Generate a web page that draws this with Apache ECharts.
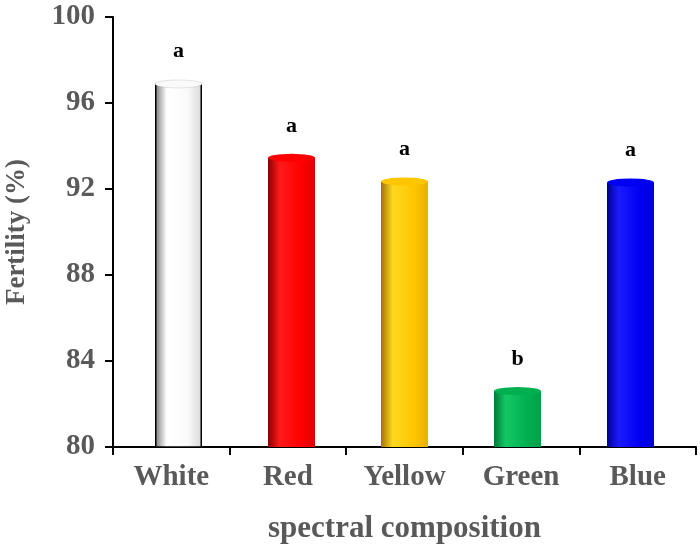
<!DOCTYPE html>
<html lang="en">
<head>
    <meta charset="UTF-8">
    <title>Fertility by spectral composition</title>
    <script src="https://cdn.jsdelivr.net/npm/echarts@6/dist/echarts.min.js"></script>
    <style>
        html, body { margin: 0; padding: 0; background: #fff; }
        #chart { width: 700px; height: 555px; }
    </style>
</head>
<body>
    <div id="chart"></div>
    <script>
    // data
    var categories = ['White', 'Red', 'Yellow', 'Green', 'Blue'];
    var fertility = [96.9, 93.45, 92.35, 82.6, 92.3];
    var letters = ['a', 'a', 'a', 'b', 'a'];
    var yTicks = [80, 84, 88, 92, 96, 100];

    // cylinder shading per bar: [dark edge, bright, base, right edge]
    var shades = [
        ['#7a7a7a', '#ffffff', '#fafafa', '#d8d8d8'],
        ['#8a0000', '#ff1a1a', '#ff0000', '#e00000'],
        ['#a07400', '#ffd820', '#ffc600', '#e8b000'],
        ['#00783a', '#14c864', '#00b050', '#00a048'],
        ['#000090', '#1a1aff', '#0000f2', '#0000d8']
    ];

    var font = '"Liberation Serif", "Times New Roman", serif';
    var grey = '#595959';

    function sideGradient(s) {
        return new echarts.graphic.LinearGradient(0, 0, 1, 0, [
            { offset: 0, color: s[0] },
            { offset: 0.25, color: s[1] },
            { offset: 0.7, color: s[2] },
            { offset: 1, color: s[3] }
        ]);
    }

    function styled(i, fill) {
        return {
            color: fill,
            borderColor: i === 0 ? '#000' : 'transparent',
            borderWidth: i === 0 ? 1.5 : 0
        };
    }

    var barData = fertility.map(function (v, i) {
        return { value: v, itemStyle: styled(i, sideGradient(shades[i])) };
    });
    var capData = fertility.map(function (v, i) {
        return { value: v, itemStyle: styled(i, shades[i][2]) };
    });
    var baseData = fertility.map(function (v, i) {
        return { value: v, itemStyle: styled(i, sideGradient(shades[i])) };
    });

    var yMin = yTicks[0], yMax = yTicks[yTicks.length - 1];

    var chart = echarts.init(document.getElementById('chart'));
    chart.setOption({
        animation: false,
        grid: [
            // visible axes
            { left: 113, right: 4, top: 17, bottom: 108, containLabel: false, outerBoundsMode: 'none' },
            // the cylinders in the original sit a little off the category centres
            { left: 122, right: 13, top: 17, bottom: 108, containLabel: false, outerBoundsMode: 'none' }
        ],
        xAxis: [{
            type: 'category',
            gridIndex: 0,
            data: categories,
            name: 'spectral composition',
            nameLocation: 'middle',
            nameGap: 66,
            nameTextStyle: { fontFamily: font, fontWeight: 'bold', fontSize: 31, color: grey },
            axisLine: { lineStyle: { color: '#000', width: 2 } },
            axisTick: { show: true, length: 8, lineStyle: { color: '#000', width: 2 } },
            axisLabel: { fontFamily: font, fontWeight: 'bold', fontSize: 29, color: grey, margin: 16 }
        }, {
            type: 'category',
            gridIndex: 1,
            data: categories,
            show: false
        }],
        yAxis: [{
            type: 'value',
            gridIndex: 0,
            min: yMin,
            max: yMax,
            interval: yTicks[1] - yTicks[0],
            name: 'Fertility (%)',
            nameLocation: 'middle',
            nameGap: 82,
            nameTextStyle: { fontFamily: font, fontWeight: 'bold', fontSize: 27, color: grey },
            axisLine: { show: true, lineStyle: { color: '#000', width: 2 } },
            axisTick: { show: true, length: 8, lineStyle: { color: '#000', width: 2 } },
            axisLabel: { fontFamily: font, fontWeight: 'bold', fontSize: 29, color: grey, margin: 18 },
            splitLine: { show: false }
        }, {
            type: 'value',
            gridIndex: 1,
            min: yMin,
            max: yMax,
            show: false
        }],
        series: [
            {
                type: 'bar',
                xAxisIndex: 1,
                yAxisIndex: 1,
                data: barData,
                barWidth: 47,
                barGap: '-100%',
                z: 2,
                label: {
                    show: true,
                    position: 'top',
                    distance: 21,
                    fontFamily: font,
                    fontWeight: 'bold',
                    fontSize: 22,
                    color: '#000',
                    formatter: function (p) { return letters[p.dataIndex]; }
                }
            },
            {
                type: 'pictorialBar',
                xAxisIndex: 1,
                yAxisIndex: 1,
                data: baseData,
                symbol: 'circle',
                symbolSize: [47, 8],
                symbolPosition: 'start',
                symbolOffset: [0, '-50%'],
                barGap: '-100%',
                z: 1
            },
            {
                type: 'pictorialBar',
                xAxisIndex: 1,
                yAxisIndex: 1,
                data: capData,
                symbol: 'circle',
                symbolSize: [47, 8],
                symbolPosition: 'end',
                symbolOffset: [0, '-50%'],
                barGap: '-100%',
                z: 3
            }
        ]
    });
    </script>
</body>
</html>
